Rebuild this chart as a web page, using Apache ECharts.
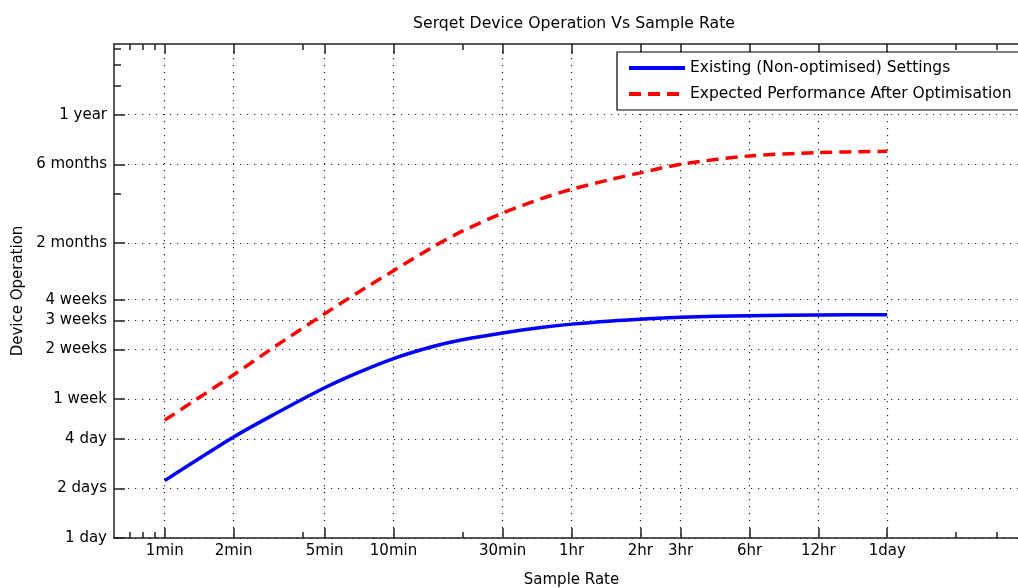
<!DOCTYPE html>
<html><head><meta charset="utf-8">
<script src="https://cdn.jsdelivr.net/npm/echarts@6/dist/echarts.min.js"></script>
<style>html,body{margin:0;padding:0;background:#fff}#c{width:1018px;height:588px}</style>
</head><body><div id="c"></div>
<script>
const sampleMinutes = [1, 2, 3, 5, 7, 10, 15, 20, 30, 45, 60, 90, 120, 180, 360, 720, 1440];
const existingDays  = [2.23, 4.1, 5.62, 8.17, 10.1, 12.3, 14.6, 16.0, 17.6, 19.05, 19.9, 20.8, 21.3, 21.9, 22.4, 22.6, 22.7];
const optimisedDays = [5.2, 9.8, 14.4, 23, 31, 42, 59, 73, 94, 116, 131, 151, 165, 186, 209, 219, 223];

const xTickValues = [1, 2, 5, 10, 30, 60, 120, 180, 360, 720, 1440];
const xTickLabels = ['1min', '2min', '5min', '10min', '30min', '1hr', '2hr', '3hr', '6hr', '12hr', '1day'];
const xMinorTicks = [0.7, 0.8, 0.9, 4, 20, 2880, 4320];
const yTickValues = [1, 2, 4, 7, 14, 21, 28, 62, 186, 372];
const yTickLabels = ['1 day', '2 days', '4 day', '1 week', '2 weeks', '3 weeks', '4 weeks', '2 months', '6 months', '1 year'];
const yMinorTicks = [124, 558, 744, 930];

const FONT = "'DejaVu Sans', 'Liberation Sans', Arial, sans-serif";
const X_MIN = 0.6, X_MAX = 6000, Y_MIN = 1, Y_MAX = 1000;

function lookup(vals, labels) {
  return function (v) {
    for (let i = 0; i < vals.length; i++) {
      if (Math.abs(vals[i] - v) / vals[i] < 1e-6) return labels[i];
    }
    return '';
  };
}

const gridLine = { show: true, lineStyle: { color: '#222', width: 1.2, type: [1.2, 5.8] } };

function xAx(pos, values, len, main) {
  return {
    type: 'log', logBase: 10, min: X_MIN, max: X_MAX, position: pos,
    axisLine: { show: main !== undefined, lineStyle: { color: '#222', width: 1.5 } },
    axisTick: { show: true, inside: true, length: len, customValues: values, lineStyle: { color: '#222', width: 1.5 } },
    axisLabel: main ? { show: true, customValues: values, margin: 6, color: '#000', fontSize: 15, fontFamily: FONT,
      formatter: lookup(xTickValues, xTickLabels) } : { show: false },
    splitLine: main ? gridLine : { show: false },
    name: main ? 'Sample Rate' : '', nameLocation: 'middle', nameGap: 35,
    nameTextStyle: { color: '#000', fontSize: 15, fontFamily: FONT }
  };
}
function yAx(values, len, main) {
  return {
    type: 'log', logBase: 10, min: Y_MIN, max: Y_MAX, position: 'left',
    axisLine: { show: !!main, lineStyle: { color: '#222', width: 1.5 } },
    axisTick: { show: true, inside: true, length: len, customValues: values, lineStyle: { color: '#222', width: 1.5 } },
    axisLabel: main ? { show: true, customValues: values, margin: 7, color: '#000', fontSize: 15, fontFamily: FONT,
      formatter: lookup(yTickValues, yTickLabels) } : { show: false },
    splitLine: main ? gridLine : { show: false },
    name: main ? 'Device Operation' : '', nameLocation: 'middle', nameGap: 88, nameRotate: 90,
    nameTextStyle: { color: '#000', fontSize: 15, fontFamily: FONT }
  };
}

const chart = echarts.init(document.getElementById('c'), null, { renderer: 'canvas' });
chart.setOption({
  animation: false,
  backgroundColor: '#fff',
  title: {
    text: 'Serqet Device Operation Vs Sample Rate', left: 569, top: 11, textAlign: 'center',
    textStyle: { color: '#000', fontSize: 15.7, fontWeight: 'normal', fontFamily: FONT }
  },
  legend: {
    orient: 'vertical', left: 617, top: 52, padding: [8, 8, 8, 10], itemGap: 10,
    itemWidth: 56, itemHeight: 14, backgroundColor: '#fff', borderColor: '#000', borderWidth: 1.2,
    itemStyle: { opacity: 0 },
    lineStyle: { width: 4 },
    textStyle: { color: '#000', fontSize: 15.5, fontFamily: FONT },
    data: ['Existing (Non-optimised) Settings', 'Expected Performance After Optimisation']
  },
  grid: { left: 114, right: -11, top: 44, bottom: 50, containLabel: false, outerBoundsMode: 'none' },
  xAxis: [
    xAx('bottom', xTickValues, 10, true),
    xAx('bottom', xMinorTicks, 6),
    xAx('top', xTickValues, 10, false),
    xAx('top', xMinorTicks, 6)
  ],
  yAxis: [
    yAx(yTickValues, 11, true),
    yAx(yMinorTicks, 7, false)
  ],
  series: [
    {
      name: 'Existing (Non-optimised) Settings', type: 'line', smooth: 0.3, symbol: 'none',
      xAxisIndex: 0, yAxisIndex: 0,
      data: sampleMinutes.map((m, i) => [m, existingDays[i]]),
      lineStyle: { color: '#0000ff', width: 3.5 }, itemStyle: { color: '#0000ff' }, z: 5
    },
    {
      name: 'Expected Performance After Optimisation', type: 'line', smooth: 0.3, symbol: 'none',
      xAxisIndex: 0, yAxisIndex: 0,
      data: sampleMinutes.map((m, i) => [m, optimisedDays[i]]),
      lineStyle: { color: '#ff0000', width: 3.5, type: [12, 7] }, itemStyle: { color: '#ff0000' }, z: 5
    }
  ]
});
</script></body></html>
